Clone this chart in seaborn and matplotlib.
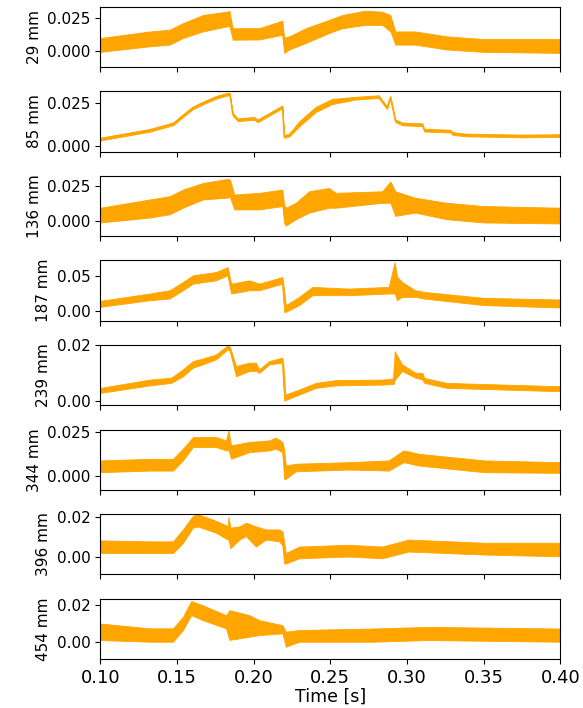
import matplotlib
matplotlib.use("Agg")
import matplotlib.pyplot as plt
import pandas as pd
import seaborn as sns

# Signal envelopes (lower / upper bound of the measured band) per sensor position
T29 = [0.100, 0.1323, 0.1452, 0.1539, 0.1669, 0.182, 0.1842, 0.1864, 0.2037, 0.2188, 0.2199, 0.2232, 0.234, 0.2491, 0.2578, 0.273, 0.2838, 0.2892, 0.2924, 0.3054, 0.326, 0.350, 0.400]
HI29 = [0.0097, 0.0148, 0.0161, 0.0212, 0.0275, 0.0300, 0.0306, 0.0173, 0.0173, 0.0232, 0.0100, 0.0110, 0.0173, 0.0237, 0.0275, 0.0309, 0.0300, 0.0275, 0.0148, 0.0148, 0.0110, 0.0089, 0.0089]
LO29 = [-0.0010, 0.0033, 0.0046, 0.0097, 0.0148, 0.0186, 0.0190, 0.0084, 0.0086, 0.0122, -0.0018, 0.0008, 0.0059, 0.0135, 0.0173, 0.0199, 0.0199, 0.0148, 0.0046, 0.0046, 0.0008, -0.0010, -0.0018]

T85 = [0.100, 0.1323, 0.1474, 0.1539, 0.1604, 0.1669, 0.1755, 0.1831, 0.1845, 0.1864, 0.1896, 0.2004, 0.2026, 0.2188, 0.2199, 0.2232, 0.2297, 0.2405, 0.2513, 0.2665, 0.2816, 0.2870, 0.2892, 0.2924, 0.2968, 0.3101, 0.3113, 0.3283, 0.3296, 0.338, 0.3745, 0.400]
HI85 = [0.0049, 0.0100, 0.0137, 0.0184, 0.0230, 0.0258, 0.0291, 0.0310, 0.0308, 0.0193, 0.0161, 0.0169, 0.0154, 0.0236, 0.0064, 0.0072, 0.0144, 0.0228, 0.0274, 0.0286, 0.0295, 0.0230, 0.0291, 0.0156, 0.0137, 0.0132, 0.0101, 0.0095, 0.0082, 0.0073, 0.0067, 0.0069]
LO85 = [0.0033, 0.0084, 0.0121, 0.0168, 0.0214, 0.0242, 0.0275, 0.0294, 0.0292, 0.0177, 0.0145, 0.0153, 0.0138, 0.0220, 0.0048, 0.0056, 0.0114, 0.0198, 0.0244, 0.0270, 0.0279, 0.0214, 0.0275, 0.0140, 0.0121, 0.0116, 0.0085, 0.0079, 0.0066, 0.0057, 0.0051, 0.0053]

T136 = [0.100, 0.1323, 0.1452, 0.1539, 0.1669, 0.182, 0.1845, 0.1874, 0.2037, 0.2188, 0.2199, 0.2210, 0.2275, 0.2362, 0.2491, 0.2535, 0.2838, 0.2892, 0.2924, 0.3054, 0.326, 0.350, 0.400]
HI136 = [0.0098, 0.0157, 0.0180, 0.0227, 0.0274, 0.0302, 0.0300, 0.0192, 0.0204, 0.0227, 0.0120, 0.0098, 0.0133, 0.0215, 0.0239, 0.0204, 0.0215, 0.0285, 0.0215, 0.0169, 0.0133, 0.0110, 0.0098]
LO136 = [-0.0007, 0.0028, 0.0051, 0.0098, 0.0157, 0.0169, 0.0175, 0.0086, 0.0086, 0.0110, -0.0010, -0.0030, 0.0016, 0.0063, 0.0098, 0.0098, 0.0133, 0.0133, 0.0040, 0.0063, 0.0016, -0.0007, -0.0014]

T187 = [0.100, 0.1323, 0.1452, 0.1539, 0.1604, 0.1755, 0.1831, 0.1853, 0.1972, 0.2037, 0.2188, 0.2199, 0.2210, 0.2297, 0.2383, 0.2621, 0.2881, 0.2920, 0.2935, 0.2968, 0.3054, 0.3113, 0.3502, 0.400]
HI187 = [0.0148, 0.0253, 0.0300, 0.0419, 0.0514, 0.0562, 0.0633, 0.0395, 0.0443, 0.0395, 0.0490, 0.0300, 0.0086, 0.0205, 0.0348, 0.0324, 0.0348, 0.0705, 0.0500, 0.0419, 0.0300, 0.0276, 0.0190, 0.0167]
LO187 = [0.0062, 0.0157, 0.0181, 0.0300, 0.0395, 0.0443, 0.0514, 0.0253, 0.0300, 0.0300, 0.0395, -0.0010, -0.0010, 0.0086, 0.0229, 0.0229, 0.0253, 0.0253, 0.0157, 0.0205, 0.0205, 0.0180, 0.0086, 0.0052]

T239 = [0.100, 0.1323, 0.1463, 0.1539, 0.1604, 0.1669, 0.1755, 0.1831, 0.1845, 0.1885, 0.1972, 0.2015, 0.2037, 0.2102, 0.2188, 0.2199, 0.2206, 0.2297, 0.2405, 0.2535, 0.2838, 0.2913, 0.2920, 0.2968, 0.3054, 0.3101, 0.3113, 0.3259, 0.400]
HI239 = [0.0046, 0.0076, 0.0083, 0.0113, 0.0143, 0.0152, 0.0167, 0.0200, 0.0195, 0.0125, 0.0137, 0.0137, 0.0113, 0.0143, 0.0155, 0.0100, 0.0022, 0.0040, 0.0064, 0.0074, 0.0076, 0.0080, 0.0179, 0.0131, 0.0101, 0.0100, 0.0082, 0.0064, 0.0052]
LO239 = [0.0028, 0.0055, 0.0064, 0.0088, 0.0119, 0.0131, 0.0149, 0.0185, 0.0180, 0.0088, 0.0107, 0.0107, 0.0100, 0.0131, 0.0137, 0.0001, 0.0001, 0.0022, 0.0046, 0.0055, 0.0058, 0.0060, 0.0075, 0.0107, 0.0083, 0.0076, 0.0064, 0.0046, 0.0034]

T344 = [0.100, 0.1323, 0.1474, 0.1539, 0.1604, 0.1755, 0.1820, 0.1836, 0.1853, 0.1972, 0.2102, 0.2145, 0.2188, 0.2199, 0.2210, 0.2275, 0.2621, 0.2880, 0.2978, 0.3076, 0.3502, 0.400]
HI344 = [0.0088, 0.0097, 0.0097, 0.0155, 0.0221, 0.0221, 0.0202, 0.0260, 0.0174, 0.0193, 0.0202, 0.0218, 0.0193, 0.0150, 0.0059, 0.0069, 0.0078, 0.0088, 0.0145, 0.0126, 0.0088, 0.0078]
LO344 = [0.0021, 0.0030, 0.0030, 0.0088, 0.0164, 0.0164, 0.0145, 0.0145, 0.0097, 0.0135, 0.0145, 0.0155, 0.0135, -0.0017, -0.0017, 0.0026, 0.0036, 0.0030, 0.0078, 0.0059, 0.0021, 0.0017]

T396 = [0.100, 0.1323, 0.1474, 0.1539, 0.1604, 0.1636, 0.1755, 0.1831, 0.1836, 0.1849, 0.1907, 0.1950, 0.2015, 0.2080, 0.2167, 0.2188, 0.2199, 0.2210, 0.2297, 0.2621, 0.2838, 0.3011, 0.3502, 0.400]
HI396 = [0.0085, 0.0080, 0.0080, 0.0140, 0.0208, 0.0217, 0.0183, 0.0157, 0.0203, 0.0149, 0.0155, 0.0174, 0.0155, 0.0140, 0.0140, 0.0130, 0.0080, 0.0021, 0.0054, 0.0063, 0.0054, 0.0089, 0.0073, 0.0073]
LO396 = [0.0022, 0.0021, 0.0021, 0.0072, 0.0149, 0.0155, 0.0123, 0.0089, 0.0089, 0.0046, 0.0089, 0.0106, 0.0054, 0.0089, 0.0080, 0.0060, -0.0031, -0.0031, -0.0005, 0.0004, -0.0005, 0.0029, 0.0014, 0.0005]

T454 = [0.100, 0.1323, 0.1474, 0.1539, 0.1593, 0.1669, 0.1820, 0.1842, 0.1972, 0.2037, 0.2188, 0.2210, 0.2297, 0.2773, 0.3138, 0.400]
HI454 = [0.0098, 0.0072, 0.0072, 0.0134, 0.0219, 0.0196, 0.0143, 0.0170, 0.0143, 0.0116, 0.0089, 0.0054, 0.0063, 0.0071, 0.0080, 0.0071]
LO454 = [0.0009, 0.0000, 0.0000, 0.0063, 0.0143, 0.0116, 0.0072, 0.0010, 0.0027, 0.0036, 0.0045, -0.0027, 0.0000, 0.0000, 0.0009, 0.0000]

LABELS = ["29 mm", "85 mm", "136 mm", "187 mm", "239 mm", "344 mm", "396 mm", "454 mm"]
SERIES = [(T29, LO29, HI29), (T85, LO85, HI85), (T136, LO136, HI136), (T187, LO187, HI187),
          (T239, LO239, HI239), (T344, LO344, HI344), (T396, LO396, HI396), (T454, LO454, HI454)]
YLIMS = [(-0.0128, 0.0339), (-0.0032, 0.0318), (-0.0105, 0.0325), (-0.0139, 0.0729),
         (-0.0017, 0.0201), (-0.0080, 0.0264), (-0.0086, 0.0217), (-0.0093, 0.0232)]
YTICKS = [[0, 0.025], [0, 0.025], [0, 0.025], [0, 0.05],
          [0, 0.02], [0, 0.025], [0, 0.02], [0, 0.02]]
XTICKS = [0.10, 0.15, 0.20, 0.25, 0.30, 0.35, 0.40]

fig, axes = plt.subplots(8, 1, figsize=(5.83, 7.08), dpi=100, sharex=True)
fig.subplots_adjust(left=0.172, right=0.961, top=0.9905, bottom=0.0692, hspace=0.4)

for ax, label, (t, lo, hi), ylim, yt in zip(axes, LABELS, SERIES, YLIMS, YTICKS):
    df = pd.DataFrame({"t": t + t, "v": lo + hi})
    sns.lineplot(data=df, x="t", y="v", ax=ax, color="orange", estimator="mean",
                 errorbar=("pi", 100), err_kws={"alpha": 1, "linewidth": 0.6}, linewidth=1)
    ax.set_ylim(*ylim)
    ax.set_yticks(yt)
    ax.set_ylabel(label, fontsize=11)
    ax.set_xlabel("")
    ax.tick_params(axis="y", labelsize=11)
    ax.tick_params(axis="x", labelsize=13)

axes[-1].set_xlim(0.10, 0.40)
axes[-1].set_xticks(XTICKS)
axes[-1].set_xlabel("Time [s]", fontsize=12.5, labelpad=1)

fig.savefig("out.png", dpi=100)
